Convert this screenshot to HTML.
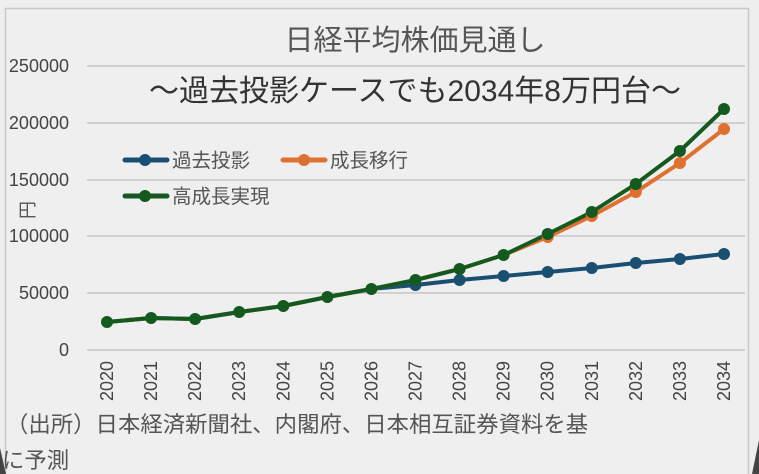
<!DOCTYPE html>
<html><head><meta charset="utf-8"><style>
html,body{margin:0;padding:0;background:#3a3a3a;}
svg{display:block;font-family:"Liberation Sans","Noto Sans CJK JP",sans-serif;}
</style></head><body>
<svg width="759" height="474" viewBox="0 0 759 474" xmlns="http://www.w3.org/2000/svg">
<rect x="0" y="0" width="759" height="474" fill="#eeeeee"/>
<rect x="5.5" y="8.5" width="743" height="470" fill="#efefef" stroke="#c8c8c8" stroke-width="1.5"/>
<path d="M0 448 L0 474 L6 474 Z" fill="#444"/>
<path d="M759 440 L759 474 L752 474 Z" fill="#444"/>
<g stroke="#c6c6c6" stroke-width="1.5">
<line x1="87" y1="66" x2="745" y2="66"/>
<line x1="87" y1="123" x2="745" y2="123"/>
<line x1="87" y1="180" x2="745" y2="180"/>
<line x1="87" y1="236" x2="745" y2="236"/>
<line x1="87" y1="293" x2="745" y2="293"/>
<line x1="87" y1="350" x2="745" y2="350"/>
</g>
<g font-size="18" fill="#444" text-anchor="end">
<text x="69" y="72">250000</text>
<text x="69" y="129">200000</text>
<text x="69" y="186">150000</text>
<text x="69" y="242">100000</text>
<text x="69" y="299">50000</text>
<text x="69" y="356">0</text>
</g>
<text x="28" y="210" font-size="18" fill="#555" text-anchor="middle" transform="rotate(-90 28 210)" dy="6">円</text>
<text x="415" y="50" font-size="29" fill="#555" text-anchor="middle">日経平均株価見通し</text>
<text x="415" y="101" font-size="30" fill="#333" text-anchor="middle">～過去投影ケースでも2034年8万円台～</text>
<g font-size="19.5" fill="#555">
<line x1="125" y1="160" x2="167" y2="160" stroke="#1a4f72" stroke-width="5" stroke-linecap="round"/><circle cx="145" cy="160" r="6" fill="#1a4f72"/>
<text x="172" y="167">過去投影</text>
<line x1="283" y1="160" x2="325" y2="160" stroke="#e07030" stroke-width="5" stroke-linecap="round"/><circle cx="304" cy="160" r="6" fill="#e07030"/>
<text x="330" y="167">成長移行</text>
<line x1="125" y1="196" x2="167" y2="196" stroke="#145a20" stroke-width="5" stroke-linecap="round"/><circle cx="145" cy="196" r="6" fill="#145a20"/>
<text x="172" y="203">高成長実現</text>
</g>
<g fill="none" stroke-width="4" stroke-linejoin="round">
<polyline stroke="#1a4f72" points="107,322 151.1,318 195.1,319 239.2,312 283.3,306 327.4,297 371.4,289 415.5,285 459.6,280 503.6,276 547.7,272 591.8,268 635.8,263 679.9,259 724,254"/>
<polyline stroke="#e07030" points="107,322 151.1,318 195.1,319 239.2,312 283.3,306 327.4,297 371.4,289 415.5,280 459.6,269 503.6,255 547.7,237 591.8,216 635.8,192 679.9,163 724,129"/>
<polyline stroke="#145a20" points="107,322 151.1,318 195.1,319 239.2,312 283.3,306 327.4,297 371.4,289 415.5,280 459.6,269 503.6,255 547.7,234 591.8,212 635.8,184 679.9,151 724,109"/>
</g>
<g fill="#1a4f72">
<circle cx="415.5" cy="285" r="6"/><circle cx="459.6" cy="280" r="6"/><circle cx="503.6" cy="276" r="6"/><circle cx="547.7" cy="272" r="6"/><circle cx="591.8" cy="268" r="6"/><circle cx="635.8" cy="263" r="6"/><circle cx="679.9" cy="259" r="6"/><circle cx="724" cy="254" r="6"/>
</g>
<g fill="#e07030">
<circle cx="547.7" cy="237" r="6"/><circle cx="591.8" cy="216" r="6"/><circle cx="635.8" cy="192" r="6"/><circle cx="679.9" cy="163" r="6"/><circle cx="724" cy="129" r="6"/>
</g>
<g fill="#145a20">
<circle cx="107" cy="322" r="6"/><circle cx="151.1" cy="318" r="6"/><circle cx="195.1" cy="319" r="6"/><circle cx="239.2" cy="312" r="6"/><circle cx="283.3" cy="306" r="6"/><circle cx="327.4" cy="297" r="6"/><circle cx="371.4" cy="289" r="6"/><circle cx="415.5" cy="280" r="6"/><circle cx="459.6" cy="269" r="6"/><circle cx="503.6" cy="255" r="6"/><circle cx="547.7" cy="234" r="6"/><circle cx="591.8" cy="212" r="6"/><circle cx="635.8" cy="184" r="6"/><circle cx="679.9" cy="151" r="6"/><circle cx="724" cy="109" r="6"/>
</g>
<g font-size="18" fill="#444" text-anchor="end">
<text transform="translate(113,361) rotate(-90)">2020</text>
<text transform="translate(157.1,361) rotate(-90)">2021</text>
<text transform="translate(201.1,361) rotate(-90)">2022</text>
<text transform="translate(245.2,361) rotate(-90)">2023</text>
<text transform="translate(289.3,361) rotate(-90)">2024</text>
<text transform="translate(333.4,361) rotate(-90)">2025</text>
<text transform="translate(377.4,361) rotate(-90)">2026</text>
<text transform="translate(421.5,361) rotate(-90)">2027</text>
<text transform="translate(465.6,361) rotate(-90)">2028</text>
<text transform="translate(509.6,361) rotate(-90)">2029</text>
<text transform="translate(553.7,361) rotate(-90)">2030</text>
<text transform="translate(597.8,361) rotate(-90)">2031</text>
<text transform="translate(641.8,361) rotate(-90)">2032</text>
<text transform="translate(685.9,361) rotate(-90)">2033</text>
<text transform="translate(730,361) rotate(-90)">2034</text>
</g>
<text x="6" y="432" font-size="22.4" fill="#555">（出所）日本経済新聞社、内閣府、日本相互証券資料を基</text>
<text x="2" y="468" font-size="22.4" fill="#555">に予測</text>
</svg>
</body></html>
